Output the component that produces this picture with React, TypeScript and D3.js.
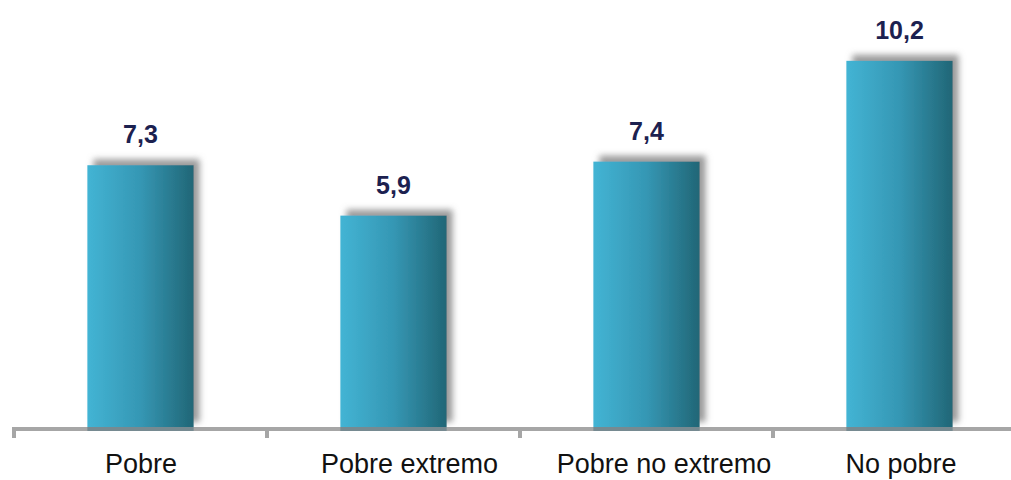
import React from "react";
import * as d3 from "d3";

const categories: string[] = ["Pobre", "Pobre extremo", "Pobre no extremo", "No pobre"];
const values: number[] = [7.3, 5.9, 7.4, 10.2];
const valueLabels: string[] = ["7,3", "5,9", "7,4", "10,2"];

const W = 1011;
const H = 480;
const X0 = 14;
const BAND = 253;
const BASE = 428;
const labelDx = [0.5, 16, 17.5, 1.5];

export default function App() {
  const x = d3
    .scaleBand<string>()
    .domain(categories)
    .range([X0, X0 + BAND * categories.length])
    .paddingInner(0.58)
    .paddingOuter(0.29);
  const y = d3.scaleLinear().domain([0, 11.89]).range([BASE, 0]);
  const bw = x.bandwidth();
  const bandStart = (c: string) => X0 + categories.indexOf(c) * BAND;
  const ticks = d3.range(categories.length).map((i) => X0 + i * BAND);

  return (
    <div style={{ position: "absolute", left: 0, top: 0 }}>
      <svg width={W} height={H} style={{ display: "block", background: "#fff" }}>
        <defs>
          <linearGradient id="barGrad" x1="0" x2="1" y1="0" y2="0">
            <stop offset="0%" stopColor="#43b4d4" />
            <stop offset="50%" stopColor="#3597b4" />
            <stop offset="100%" stopColor="#216676" />
          </linearGradient>
          <filter id="shadow" x="-20%" y="-20%" width="140%" height="140%">
            <feDropShadow dx="6" dy="-6" stdDeviation="3" floodColor="#7a7a7a" floodOpacity="0.75" />
          </filter>
        </defs>
        {categories.map((c, i) => {
          const cx = bandStart(c) + BAND / 2;
          const bx = cx - bw / 2;
          const top = y(values[i]);
          return (
            <g key={c}>
              <rect
                x={bx}
                y={top}
                width={bw}
                height={BASE - top}
                fill="url(#barGrad)"
                filter="url(#shadow)"
              />
              <text
                x={cx}
                y={top - 22}
                textAnchor="middle"
                fontFamily="'Liberation Sans', Arial, sans-serif"
                fontWeight="bold"
                fontSize={25}
                fill="#1c2150"
              >
                {valueLabels[i]}
              </text>
              <text
                x={cx + labelDx[i]}
                y={473}
                textAnchor="middle"
                fontFamily="'Liberation Sans', Arial, sans-serif"
                fontSize={27}
                fill="#111"
              >
                {c}
              </text>
            </g>
          );
        })}
        <rect x={X0 - 2} y={BASE - 1} width={W - X0 + 2} height={4} fill="#a6a6a6" />
        {categories.map((c) => {
          const cx = bandStart(c) + BAND / 2;
          return (
            <rect key={"ov" + c} x={cx - bw / 2} y={BASE - 1} width={bw} height={4} fill="#768a91" />
          );
        })}
        {ticks.map((t, i) => (
          <rect key={"t" + i} x={t - 2} y={BASE - 1} width={4} height={11} fill="#a6a6a6" />
        ))}
      </svg>
    </div>
  );
}
